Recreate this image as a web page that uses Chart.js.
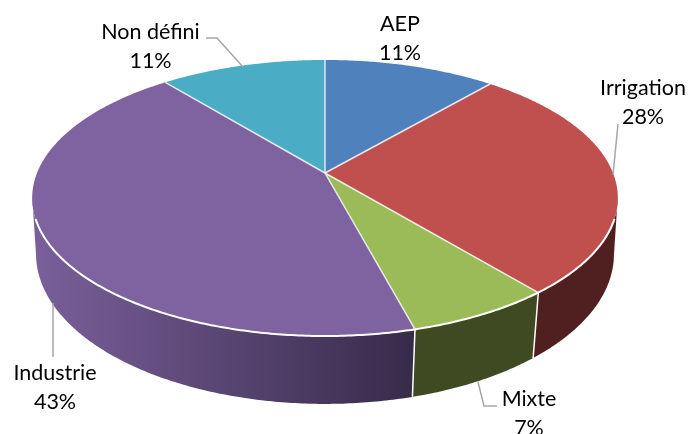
<!DOCTYPE html>
<html><head><meta charset="utf-8">
<style>html,body{margin:0;padding:0;background:#fff;overflow:hidden}canvas{display:block}</style>
<script src="https://cdn.jsdelivr.net/npm/chart.js@4/dist/chart.umd.min.js"></script>
</head><body><canvas id="c" width="688" height="434"></canvas>
<script>
const categories = ["AEP", "Irrigation", "Mixte", "Industrie", "Non défini"];
const shares = [11.3, 27.7, 6.85, 43.25, 10.9];
const topColors = ["#4f81bd", "#bf504d", "#9bbb59", "#7f62a0", "#4bacc6"];
const sideColors = [["#2a4468","#2a4468"], ["#4f201f","#4f201f"], ["#3f4a22","#3f4a22"], ["#7a5f9a","#372b4a"], ["#2a5f6d","#2a5f6d"]];

// Projection of the flat pie disc onto the tilted view (perspective).
const TOP = {cx:325, cy:173, a:288, b:133.5, k:0.181};
const BOTTOM = {cx:325, cy:229.3, a:285, b:145.8, k:0.165};
const project = (p, ang) => {
  const u = Math.cos(ang), v = Math.sin(ang), w = 1/(1 - p.k*v);
  return [p.cx + p.a*u*w, p.cy + p.b*v*w];
};
const trace = (ctx, p, a0, a1, first) => {
  const n = Math.max(2, Math.ceil(Math.abs(a1-a0)/0.01));
  for (let i=0;i<=n;i++){
    const q = project(p, a0+(a1-a0)*i/n);
    if (i===0 && first) ctx.moveTo(q[0],q[1]); else ctx.lineTo(q[0],q[1]);
  }
};
const VIS0 = 0.17, VIS1 = Math.PI-0.17;

const pie3d = {
  id:'pie3d',
  beforeDatasetsDraw(chart){
    const ctx = chart.ctx, arcs = chart.getDatasetMeta(0).data;
    ctx.save();
    // side walls
    arcs.forEach((arc,i)=>{
      const s = Math.max(arc.startAngle,VIS0), e = Math.min(arc.endAngle,VIS1);
      if (e<=s) return;
      const pa = project(BOTTOM,s), pb = project(BOTTOM,e);
      const g = ctx.createLinearGradient(Math.min(pa[0],pb[0]),0,Math.max(pa[0],pb[0]),0);
      const cols = sideColors[i];
      g.addColorStop(0, cols[0]);
      g.addColorStop(1, cols[1]);
      ctx.beginPath();
      trace(ctx,TOP,s,e,true);
      trace(ctx,BOTTOM,e,s,false);
      ctx.closePath();
      ctx.fillStyle = g; ctx.fill();
    });
    // wall separators
    ctx.strokeStyle='#fff'; ctx.lineWidth=1.5;
    arcs.forEach(arc=>{
      const a=arc.endAngle;
      if (a>VIS0 && a<VIS1){
        const p=project(TOP,a), q=project(BOTTOM,a);
        ctx.beginPath(); ctx.moveTo(p[0],p[1]); ctx.lineTo(q[0],q[1]); ctx.stroke();
      }
    });
    // top faces
    arcs.forEach((arc,i)=>{
      ctx.beginPath();
      ctx.moveTo(TOP.cx,TOP.cy);
      trace(ctx,TOP,arc.startAngle,arc.endAngle,false);
      ctx.closePath();
      ctx.fillStyle = arc.options.backgroundColor; ctx.fill();
    });
    // radial separators
    ctx.strokeStyle='rgba(255,255,255,0.8)'; ctx.lineWidth=1.5;
    arcs.forEach(arc=>{
      const q=project(TOP,arc.startAngle);
      ctx.beginPath(); ctx.moveTo(TOP.cx,TOP.cy); ctx.lineTo(q[0],q[1]); ctx.stroke();
    });
    // front rim
    ctx.strokeStyle='#fff'; ctx.lineWidth=2;
    ctx.beginPath(); trace(ctx,TOP,0.33,Math.PI-0.33,true); ctx.stroke();
    ctx.restore();
    return false;
  },
  afterDraw(chart){
    const ctx = chart.ctx, o = chart.options.plugins.pie3d;
    ctx.save();
    ctx.strokeStyle='#a6a6a6'; ctx.lineWidth=1.5;
    o.leaders.forEach(l=>{
      ctx.beginPath();
      l.forEach((p,i)=> i? ctx.lineTo(p[0],p[1]) : ctx.moveTo(p[0],p[1]));
      ctx.stroke();
    });
    ctx.fillStyle='#000'; ctx.textAlign='center'; ctx.textBaseline='alphabetic';
    ctx.font='21.5px Lato';
    chart.data.labels.forEach((name,i)=>{
      const p=o.labelAt[i];
      ctx.fillText(name,p[0],p[1]);
      ctx.fillText(Math.round(chart.data.datasets[0].data[i])+'%',p[0],p[1]+29);
    });
    ctx.restore();
  }
};

new Chart(document.getElementById('c'),{
  type:'pie',
  data:{labels:categories,datasets:[{data:shares,backgroundColor:topColors,borderWidth:0}]},
  options:{
    responsive:false,animation:false,events:[],
    plugins:{
      legend:{display:false},tooltip:{enabled:false},
      pie3d:{
        labelAt:[[400,31],[643,95],[529,406],[55,380],[150.5,39]],
        leaders:[
          [[618,124],[613,175]],
          [[478,382],[484,406],[497,406]],
          [[53,357],[53,303]],
          [[206,38],[217,38],[243,67]]
        ]
      }
    }
  },
  plugins:[pie3d]
});
</script></body></html>
